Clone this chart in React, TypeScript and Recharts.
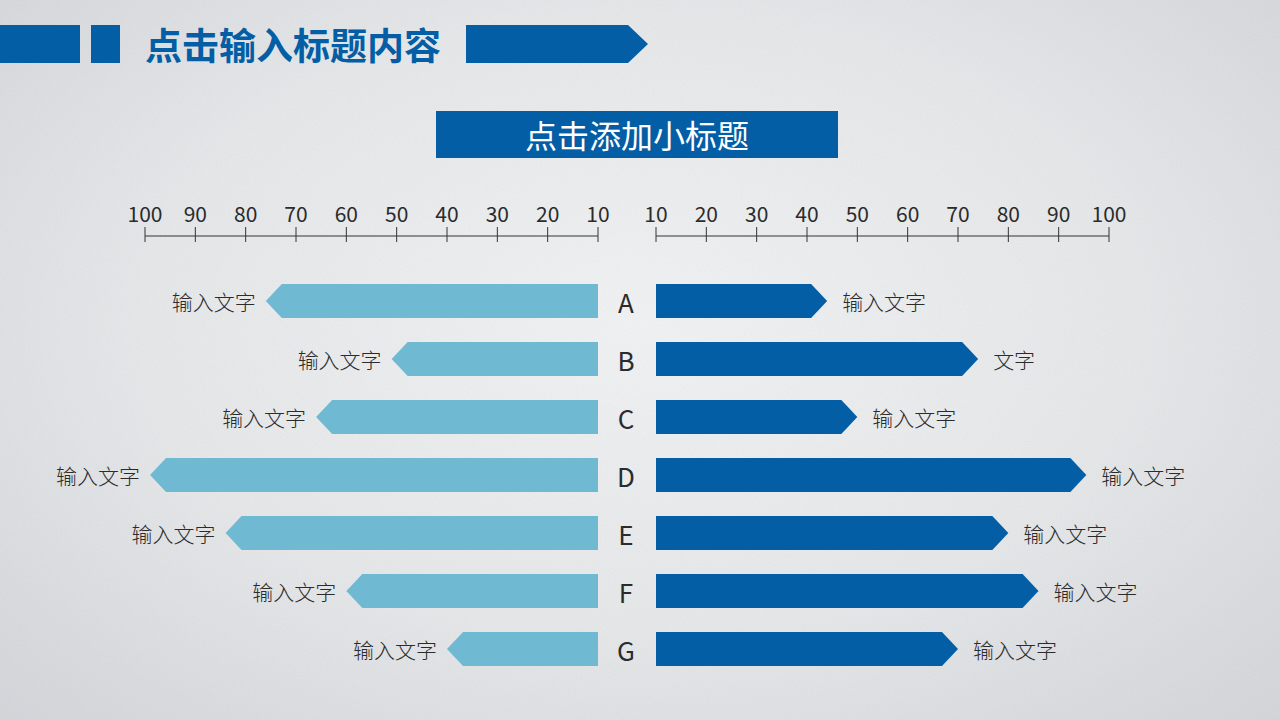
import React from 'react';
import { BarChart, Bar, XAxis, YAxis, LabelList } from 'recharts';

const categories = ['A', 'B', 'C', 'D', 'E', 'F', 'G'];
const leftValues = [76, 51, 66, 99, 84, 60, 40];
const rightValues = [44, 74, 50, 95.5, 80, 86, 70];
const leftLabels = ['输入文字', '输入文字', '输入文字', '输入文字', '输入文字', '输入文字', '输入文字'];
const rightLabels = ['输入文字', '文字', '输入文字', '输入文字', '输入文字', '输入文字', '输入文字'];
const axisTicks = [10, 20, 30, 40, 50, 60, 70, 80, 90, 100];
const titleText = '点击输入标题内容';
const subtitleText = '点击添加小标题';

const data = categories.map((c, i) => ({
  cat: c,
  left: leftValues[i],
  right: rightValues[i],
  leftLabel: leftLabels[i],
  rightLabel: rightLabels[i],
}));

const FONT = '"Noto Sans CJK SC", "Noto Sans", sans-serif';
const LIGHT = '#6fbad2';
const DARK = '#035ea5';
const TEXT = '#2b2b2b';

const makeArrow = (dir: 'left' | 'right') => (props: any) => {
  const { x, y, width, height, fill } = props;
  const l = Math.min(x, x + width);
  const r = Math.max(x, x + width);
  const d = Math.min(16, r - l);
  const h = height;
  const pts =
    dir === 'left'
      ? `${r},${y} ${l + d},${y} ${l},${y + h / 2} ${l + d},${y + h} ${r},${y + h}`
      : `${l},${y} ${r - d},${y} ${r},${y + h / 2} ${r - d},${y + h} ${l},${y + h}`;
  return <polygon points={pts} fill={fill} />;
};

const makeLabel = (dir: 'left' | 'right') => (p: any) => {
  const vb = p.viewBox && p.viewBox.width !== undefined ? p.viewBox : p;
  const { x, y, width, height } = vb;
  const l = Math.min(x, x + width);
  const r = Math.max(x, x + width);
  const cy = y + height / 2;
  return dir === 'left' ? (
    <text x={l - 10} y={cy} textAnchor="end" dominantBaseline="central" fontSize={21} fill={TEXT} fontFamily={FONT} fontWeight={300}>
      {p.value}
    </text>
  ) : (
    <text x={r + 15} y={cy} textAnchor="start" dominantBaseline="central" fontSize={21} fill={TEXT} fontFamily={FONT} fontWeight={300}>
      {p.value}
    </text>
  );
};

const AxisTick = (p: any) => {
  const { x, y, payload } = p;
  return (
    <g>
      <line x1={x} x2={x} y1={y + 6} y2={y + 21} stroke="#333" strokeWidth={1} />
      <text x={x} y={y + 1} textAnchor="middle" fontSize={21} fill={TEXT} fontFamily={FONT}>
        {payload.value}
      </text>
    </g>
  );
};

const CatTick = (p: any) => {
  const { x, y, payload } = p;
  return (
    <text x={x - 30} y={y} textAnchor="middle" dominantBaseline="central" fontSize={26} fill={TEXT} fontFamily={FONT}>
      {payload.value}
    </text>
  );
};

const W = 1280;
const H = 720;

export default function App() {
  return (
    <div style={{ position: 'absolute', left: 0, top: 0, width: W, height: H, overflow: 'hidden', fontFamily: FONT }}>
      <div
        style={{
          position: 'absolute',
          inset: 0,
          background: 'radial-gradient(ellipse at 50% 45%, #f1f2f4 0%, #e5e7e9 55%, #d2d5d9 100%)',
        }}
      />
      <svg width={W} height={H} style={{ position: 'absolute', left: 0, top: 0 }}>
        <defs>
          <filter id="noise">
            <feTurbulence type="fractalNoise" baseFrequency="0.8" numOctaves="2" seed="3" />
            <feColorMatrix type="saturate" values="0" />
          </filter>
        </defs>
        <rect x={0} y={0} width={W} height={H} filter="url(#noise)" opacity={0.09} />
        <rect x={0} y={25} width={80} height={38} fill={DARK} />
        <rect x={91} y={25} width={29} height={38} fill={DARK} />
        <text x={145} y={44} dominantBaseline="central" fontSize={37} fontWeight="bold" fill={DARK} fontFamily={FONT}>
          {titleText}
        </text>
        <polygon points="466,25 628,25 648,44 628,63 466,63" fill={DARK} />
        <rect x={436} y={111} width={402} height={47} fill={DARK} />
        <text x={637} y={134} textAnchor="middle" dominantBaseline="central" fontSize={32} fill="#ffffff" fontFamily={FONT}>
          {subtitleText}
        </text>
      </svg>
      <div style={{ position: 'absolute', left: 0, top: 0 }}>
        <BarChart width={W} height={H} data={data} layout="vertical" margin={{ top: 206, left: 145, right: 682, bottom: 42 }}>
          <XAxis
            type="number"
            orientation="top"
            reversed
            domain={[10, 100]}
            ticks={axisTicks}
            height={30}
            tickSize={9}
            tickMargin={6}
            tickLine={false}
            axisLine={{ stroke: '#333', strokeWidth: 1 }}
            tick={<AxisTick />}
            interval={0}
          />
          <YAxis type="category" dataKey="cat" hide padding={{ top: 36, bottom: 0 }} />
          <Bar dataKey="left" fill={LIGHT} barSize={34} isAnimationActive={false} shape={makeArrow('left')}>
            <LabelList dataKey="leftLabel" content={makeLabel('left')} />
          </Bar>
        </BarChart>
      </div>
      <div style={{ position: 'absolute', left: 0, top: 0 }}>
        <BarChart width={W} height={H} data={data} layout="vertical" margin={{ top: 206, left: 598, right: 171, bottom: 42 }}>
          <XAxis
            type="number"
            orientation="top"
            domain={[10, 100]}
            ticks={axisTicks}
            height={30}
            tickSize={9}
            tickMargin={6}
            tickLine={false}
            axisLine={{ stroke: '#333', strokeWidth: 1 }}
            tick={<AxisTick />}
            interval={0}
          />
          <YAxis
            type="category"
            dataKey="cat"
            width={58}
            axisLine={false}
            tickLine={false}
            tickSize={0}
            tickMargin={0}
            tick={<CatTick />}
            padding={{ top: 36, bottom: 0 }}
          />
          <Bar dataKey="right" fill={DARK} barSize={34} isAnimationActive={false} shape={makeArrow('right')}>
            <LabelList dataKey="rightLabel" content={makeLabel('right')} />
          </Bar>
        </BarChart>
      </div>
    </div>
  );
}
